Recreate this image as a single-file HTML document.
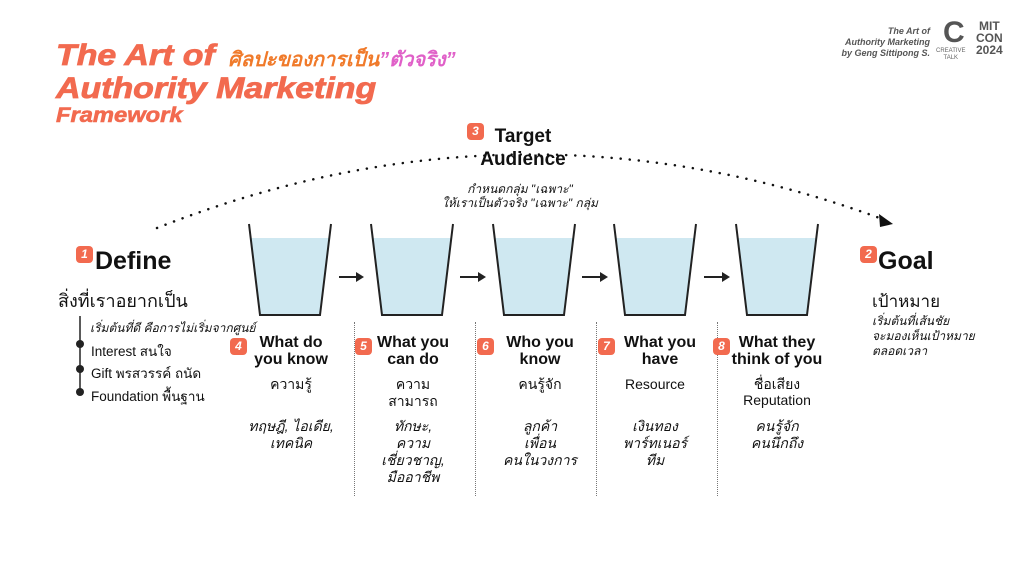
<!DOCTYPE html>
<html><head><meta charset="utf-8"><style>
body{margin:0;width:1024px;height:576px;background:#fff;position:relative;overflow:hidden;font-family:"Liberation Sans","Noto Sans CJK SC",sans-serif;color:#111}
.a{position:absolute;white-space:nowrap}
.t{color:#f26a4f;font-weight:900;font-style:italic;transform-origin:0 0}
.b{display:inline-block;width:17px;height:17px;border-radius:4px;background:#f26a4f;color:#fff;font-size:12px;font-weight:bold;font-style:italic;text-align:center;line-height:17px}
.h{font-weight:bold;font-size:16px;text-align:center;line-height:17px}
.c{text-align:center;font-size:14px;line-height:17px}
.i{font-style:italic}
.sep{position:absolute;top:322px;height:174px;border-left:1px dotted #777}
</style></head><body>
<div class="a t" style="left:56px;top:40px;font-size:30px;line-height:32px;transform:scaleX(1.13);-webkit-text-stroke:0.8px #f26a4f">The Art of</div>
<div class="a" style="left:228px;top:43px;font-size:20px;font-weight:bold;font-style:italic;color:#f07a2a">ศิลปะของการเป็น<span style="color:#e060c8">”ตัวจริง”</span></div>
<div class="a t" style="left:56px;top:73px;font-size:30px;line-height:32px;transform:scaleX(1.13);-webkit-text-stroke:0.8px #f26a4f">Authority Marketing</div>
<div class="a t" style="left:56px;top:104px;font-size:21px;transform:scaleX(1.13);-webkit-text-stroke:0.6px #f26a4f">Framework</div>

<div class="a i" style="left:820px;top:26px;width:110px;text-align:right;font-size:9px;line-height:11px;color:#555;font-weight:bold">The Art of<br>Authority Marketing<br>by Geng Sittipong S.</div>
<div class="a" style="left:943px;top:18px;font-size:30px;font-weight:900;color:#555;line-height:30px">C</div>
<div class="a" style="left:936px;top:48px;font-size:6px;color:#666;text-align:center;line-height:7px">CREATIVE<br>TALK</div>
<div class="a" style="left:976px;top:20px;font-size:12px;font-weight:900;color:#555;line-height:12px;text-align:center">MIT<br>CON<br>2024</div>

<svg class="a" style="left:0;top:0" width="1024" height="576">
<path d="M157 228 Q520 85 885 220" fill="none" stroke="#111" stroke-width="2.5" stroke-dasharray="0.1 9" stroke-linecap="round"/>
<path d="M879 214 L893 224 L880 227 Z" fill="#111"/>
<g fill="#cfe8f1">
<path d="M250 238 L330 238 L320 315 L260 315 Z"/>
<path d="M372 238 L452 238 L442 315 L382 315 Z"/>
<path d="M494 238 L574 238 L564 315 L504 315 Z"/>
<path d="M615 238 L695 238 L685 315 L625 315 Z"/>
<path d="M737 238 L817 238 L807 315 L747 315 Z"/>
</g>
<g fill="none" stroke="#222" stroke-width="2">
<path d="M249 224 L260 315 L320 315 L331 224"/>
<path d="M371 224 L382 315 L442 315 L453 224"/>
<path d="M493 224 L504 315 L564 315 L575 224"/>
<path d="M614 224 L625 315 L685 315 L696 224"/>
<path d="M736 224 L747 315 L807 315 L818 224"/>
<path d="M339 277 H358 M460 277 H480 M582 277 H602 M704 277 H724"/>
</g>
<g fill="#222"><path d="M364 277 l-8 -5 v10z"/><path d="M486 277 l-8 -5 v10z"/><path d="M608 277 l-8 -5 v10z"/><path d="M730 277 l-8 -5 v10z"/>
<circle cx="80" cy="344" r="4"/><circle cx="80" cy="369" r="4"/><circle cx="80" cy="392" r="4"/></g>
<path d="M80 316 V394" stroke="#222" stroke-width="1.5"/>
</svg>

<div class="a" style="left:76px;top:245px"><span class="b">1</span></div>
<div class="a" style="left:95px;top:247px;font-size:25px;font-weight:bold">Define</div>
<div class="a" style="left:58px;top:286px;font-size:18px">สิ่งที่เราอยากเป็น</div>
<div class="a i" style="left:90px;top:319px;font-size:12px">เริ่มต้นที่ดี คือการไม่เริ่มจากศูนย์</div>
<div class="a" style="left:91px;top:340px;font-size:13.5px">Interest สนใจ</div>
<div class="a" style="left:91px;top:362px;font-size:13.5px">Gift พรสวรรค์ ถนัด</div>
<div class="a" style="left:91px;top:385px;font-size:13.5px">Foundation พื้นฐาน</div>

<div class="a" style="left:467px;top:122px"><span class="b">3</span></div>
<div class="a" style="left:473px;top:125px;width:100px;text-align:center;font-size:19px;font-weight:bold;line-height:23px">Target<br>Audience</div>
<div class="a i c" style="left:420px;top:182px;width:200px;font-size:12px;line-height:14px">กำหนดกลุ่ม "เฉพาะ"<br>ให้เราเป็นตัวจริง "เฉพาะ" กลุ่ม</div>

<div class="a" style="left:860px;top:245px"><span class="b">2</span></div>
<div class="a" style="left:878px;top:247px;font-size:25px;font-weight:bold">Goal</div>
<div class="a" style="left:872px;top:288px;font-size:17px">เป้าหมาย</div>
<div class="a i" style="left:872px;top:314px;font-size:12px;line-height:15px">เริ่มต้นที่เส้นชัย<br>จะมองเห็นเป้าหมาย<br>ตลอดเวลา</div>

<div class="sep" style="left:354px"></div><div class="sep" style="left:475px"></div><div class="sep" style="left:596px"></div><div class="sep" style="left:717px"></div>

<div class="a" style="left:230px;top:337px"><span class="b">4</span></div>
<div class="a h" style="left:241px;top:334px;width:100px">What do<br>you know</div>
<div class="a c" style="left:241px;top:376px;width:100px">ความรู้</div>
<div class="a c i" style="left:231px;top:418px;width:120px">ทฤษฎี, ไอเดีย,<br>เทคนิค</div>

<div class="a" style="left:355px;top:337px"><span class="b">5</span></div>
<div class="a h" style="left:363px;top:334px;width:100px">What you<br>can do</div>
<div class="a c" style="left:363px;top:376px;width:100px">ความ<br>สามารถ</div>
<div class="a c i" style="left:363px;top:418px;width:100px">ทักษะ,<br>ความ<br>เชี่ยวชาญ,<br>มืออาชีพ</div>

<div class="a" style="left:477px;top:337px"><span class="b">6</span></div>
<div class="a h" style="left:490px;top:334px;width:100px">Who you<br>know</div>
<div class="a c" style="left:490px;top:376px;width:100px">คนรู้จัก</div>
<div class="a c i" style="left:490px;top:418px;width:100px">ลูกค้า<br>เพื่อน<br>คนในวงการ</div>

<div class="a" style="left:598px;top:337px"><span class="b">7</span></div>
<div class="a h" style="left:610px;top:334px;width:100px">What you<br>have</div>
<div class="a c" style="left:605px;top:376px;width:100px">Resource</div>
<div class="a c i" style="left:605px;top:418px;width:100px">เงินทอง<br>พาร์ทเนอร์<br>ทีม</div>

<div class="a" style="left:713px;top:337px"><span class="b">8</span></div>
<div class="a h" style="left:722px;top:334px;width:110px">What they<br>think of you</div>
<div class="a c" style="left:727px;top:376px;width:100px;line-height:16px">ชื่อเสียง<br>Reputation</div>
<div class="a c i" style="left:727px;top:418px;width:100px">คนรู้จัก<br>คนนึกถึง</div>
</body></html>
